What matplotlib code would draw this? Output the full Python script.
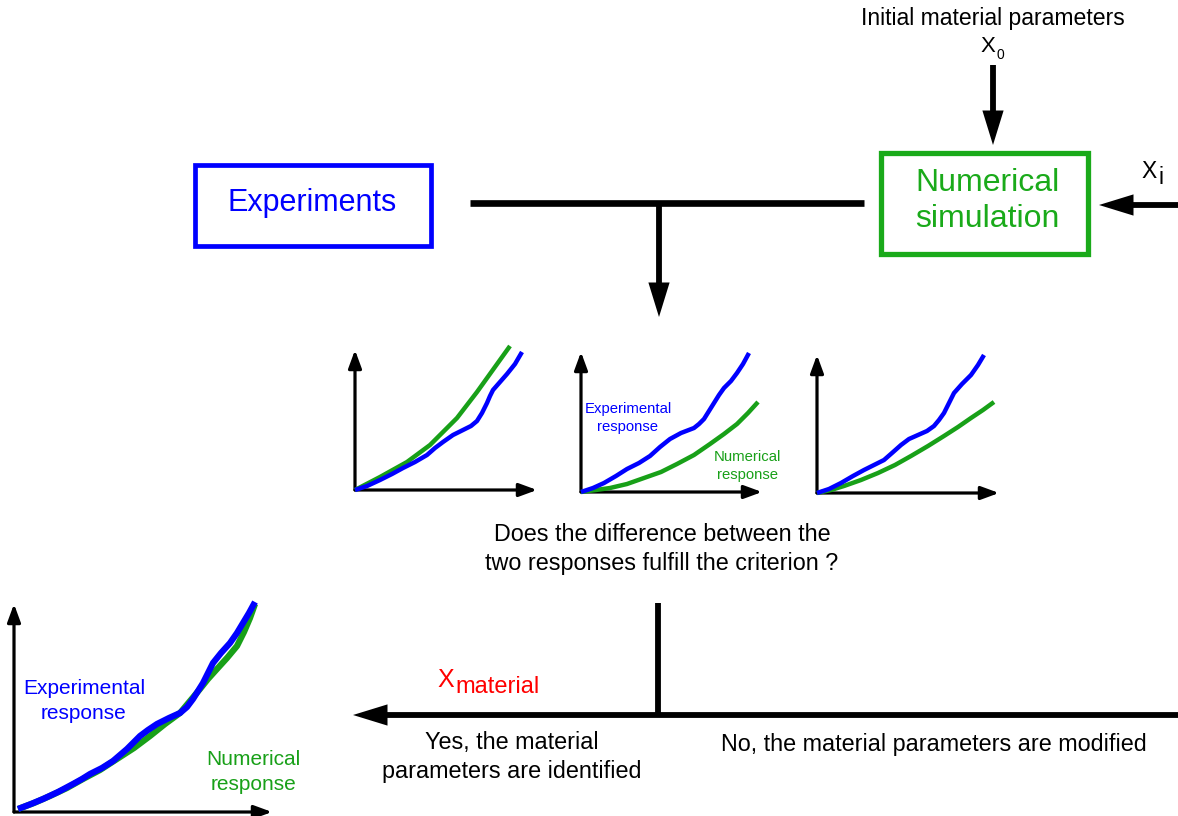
import matplotlib
matplotlib.use("Agg")
import matplotlib.pyplot as plt
from matplotlib.patches import FancyArrowPatch, Rectangle

plt.rcParams['font.family'] = ['Liberation Sans', 'DejaVu Sans']

W, H = 1178, 816
BLUE = '#0000ff'
GREEN = '#18a018'
RED = '#ff0000'

# ---- Data: response curves (x, y offsets from each mini-plot origin) ----
p1_num_x = [0, 25, 52, 75, 102, 122, 155]
p1_num_y = [0, 13, 28, 45, 72, 98, 144]
p1_exp_x = [0, 12, 25, 37, 48, 60, 72, 80, 88, 98, 108, 116, 122, 127, 132, 135, 138, 145, 152, 160, 167]
p1_exp_y = [0, 4, 10, 16, 22, 28, 35, 42, 48, 55, 60, 64, 69, 77, 87, 94, 100, 108, 116, 126, 138]

p2_exp_x = [0, 12, 23, 35, 46, 58, 69, 79, 89, 100, 113, 118, 123, 128, 133, 138, 143, 150, 156, 162, 168]
p2_exp_y = [0, 4, 9, 16, 23, 29, 36, 45, 53, 59, 64, 68, 73, 81, 89, 97, 104, 111, 119, 128, 139]
p2_num_x = [0, 15, 29, 46, 63, 80, 96, 113, 129, 143, 156, 167, 177]
p2_num_y = [0, 2, 4, 8, 14, 20, 28, 37, 48, 58, 68, 79, 90]

p3_exp_x = [0, 12, 24, 36, 47, 57, 67, 75, 84, 92, 101, 110, 117, 122, 127, 132, 137, 145, 154, 161, 167]
p3_exp_y = [0, 4, 10, 17, 23, 28, 33, 40, 48, 54, 58, 62, 67, 73, 80, 90, 100, 109, 118, 128, 138]
p3_num_x = [0, 14, 27, 44, 61, 78, 94, 111, 127, 141, 154, 166, 177]
p3_num_y = [0, 3, 7, 13, 20, 28, 37, 47, 57, 66, 75, 83, 91]

pf_exp_x = [4, 17, 29, 44, 59, 68, 76, 88, 99, 106, 113, 120, 126, 134, 143, 155, 166, 173, 179, 184, 189,
            194, 199, 207, 216, 223, 229, 235, 241]
pf_exp_y = [3, 8, 13, 20, 28, 33, 38, 44, 51, 57, 63, 70, 76, 82, 88, 94, 99, 105, 113, 121, 129,
            139, 149, 159, 169, 179, 189, 199, 210]
pf_num_x = [4, 20, 36, 53, 69, 86, 103, 120, 136, 151, 166, 176, 186, 194, 203, 213, 223, 230, 236, 241]
pf_num_y = [3, 9, 16, 24, 33, 42, 53, 64, 76, 88, 99, 111, 123, 133, 143, 154, 166, 180, 194, 208]

fig = plt.figure(figsize=(W / 100, H / 100), dpi=100)
ax = fig.add_axes([0, 0, 1, 1])
ax.set_xlim(0, W)
ax.set_ylim(H, 0)
ax.axis('off')


def arrow(a, p0, p1, lw=4.2, hl=0.78, hw=0.24, ms=20):
    a.add_patch(FancyArrowPatch(p0, p1, arrowstyle=f'-|>,head_length={hl},head_width={hw}',
                                mutation_scale=ms, lw=lw, color='black',
                                shrinkA=0, shrinkB=0, clip_on=False, joinstyle='miter',
                                capstyle='butt'))


def line(a, xs, ys, lw=4.2, color='black'):
    a.plot(xs, ys, color=color, lw=lw, solid_capstyle='butt', clip_on=False)


def mini(ox, oy, w, h):
    m = fig.add_axes([ox / W, (H - oy) / H, w / W, h / H])
    m.set_xlim(0, w)
    m.set_ylim(0, h)
    m.axis('off')
    return m


def mini_axes(m, w, h, lw=2.3):
    for tip in [(w, 0), (0, h)]:
        m.add_patch(FancyArrowPatch((0, 0), tip, arrowstyle='-|>,head_length=0.6,head_width=0.22',
                                    mutation_scale=18, lw=lw, color='black',
                                    shrinkA=0, shrinkB=0, clip_on=False))


def curve(m, xs, ys, color, lw):
    m.plot(xs, ys, color=color, lw=lw, clip_on=False, solid_joinstyle='round',
           solid_capstyle='butt')


# ---- Top: initial parameters ----
ax.text(993, 18, 'Initial material parameters', ha='center', va='center', fontsize=16.6)
ax.text(988, 47, 'X', ha='center', va='center', fontsize=16)
ax.text(1000, 55, '0', ha='center', va='center', fontsize=10)
arrow(ax, (993, 65), (993, 145))

# ---- Boxes ----
ax.add_patch(Rectangle((195, 165), 236, 81, fill=False, ec=BLUE, lw=3.4))
ax.text(312, 203, 'Experiments', ha='center', va='center', fontsize=22, color=BLUE)
ax.add_patch(Rectangle((881, 153), 207, 101, fill=False, ec='#1aaa1a', lw=3.8))
ax.text(987, 201, 'Numerical\nsimulation', ha='center', va='center', fontsize=23,
        color='#1aaa1a', linespacing=1.3)

# ---- Xi feedback ----
ax.text(1149, 171, 'X', ha='center', va='center', fontsize=16.5)
ax.text(1161, 177, 'i', ha='center', va='center', fontsize=16.5)
arrow(ax, (1178, 205), (1099, 205))

# ---- T junction ----
line(ax, [470, 864], [203, 203], lw=4.8)
arrow(ax, (659, 203), (659, 317))

# ---- Mini plots ----
m1 = mini(355, 490, 182, 140)
mini_axes(m1, 182, 140)
curve(m1, p1_num_x, p1_num_y, GREEN, 3.2)
curve(m1, p1_exp_x, p1_exp_y, BLUE, 3.2)

m2 = mini(581, 492, 181, 140)
mini_axes(m2, 181, 140)
curve(m2, p2_num_x, p2_num_y, GREEN, 3.2)
curve(m2, p2_exp_x, p2_exp_y, BLUE, 3.2)
ax.text(628, 418, 'Experimental\nresponse', ha='center', va='center', fontsize=10.7,
        color=BLUE, linespacing=1.3)
ax.text(747, 466, 'Numerical\nresponse', ha='center', va='center', fontsize=10.7,
        color=GREEN, linespacing=1.3)

m3 = mini(817, 493, 182, 138)
mini_axes(m3, 182, 138)
curve(m3, p3_num_x, p3_num_y, GREEN, 3.2)
curve(m3, p3_exp_x, p3_exp_y, BLUE, 3.2)

ax.text(662, 549, 'Does the difference between the\ntwo responses fulfill the criterion ?',
        ha='center', va='center', fontsize=16.8, linespacing=1.3)

# ---- Bottom decision ----
line(ax, [658, 658], [603, 716], lw=4.2)
arrow(ax, (1178, 715), (353, 715))
ax.text(437, 680, 'X', ha='left', va='center', fontsize=18, color=RED)
ax.text(455, 687, 'material', ha='left', va='center', fontsize=17, color=RED)
ax.text(512, 757, 'Yes, the material\nparameters are identified', ha='center', va='center',
        fontsize=16.8, linespacing=1.3)
ax.text(934, 744, 'No, the material parameters are modified', ha='center', va='center',
        fontsize=16.8)

# ---- Final plot ----
mf = mini(14, 812, 258, 208)
mini_axes(mf, 258, 208, lw=2.3)
curve(mf, pf_num_x, pf_num_y, GREEN, 4.5)
curve(mf, pf_exp_x, pf_exp_y, BLUE, 4.5)
ax.text(84, 701, 'Experimental\nresponse', ha='center', va='center', fontsize=15,
        color=BLUE, linespacing=1.4)
ax.text(253, 772, 'Numerical\nresponse', ha='center', va='center', fontsize=15,
        color=GREEN, linespacing=1.4)

fig.savefig('out.png', dpi=100)
